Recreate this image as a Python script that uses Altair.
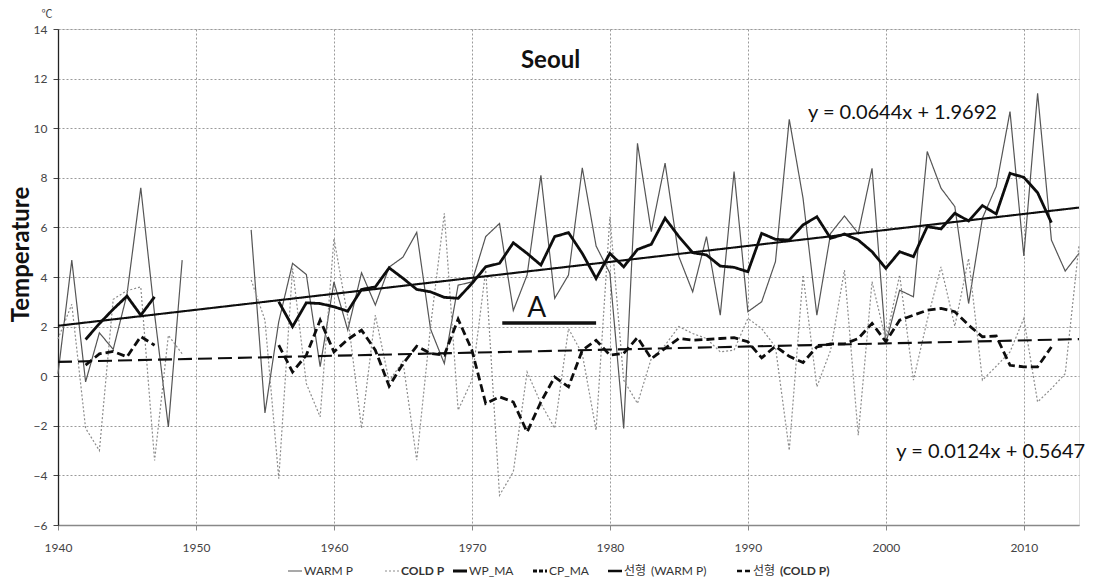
import altair as alt
import pandas as pd

# ---------------- data ----------------
years_a = list(range(1940, 1950))
years_b = list(range(1954, 2015))

warm_a = [0.1, 4.68, -0.23, 1.75, 1.08, 3.3, 7.6, 2.5, -2.05, 4.68]
warm_b = [5.9, -1.48, 2.2, 4.55, 4.1, 0.38, 3.8, 1.86, 4.17, 2.87,
          4.4, 4.8, 5.8, 1.9, 0.51, 3.67, 3.8, 5.63, 6.16, 2.65,
          4.08, 8.1, 3.14, 4.08, 8.4, 5.25, 4.15, -2.11, 9.39, 5.83,
          8.59, 4.82, 3.4, 5.63, 2.46, 8.25, 2.6, 3.0, 4.62, 10.36,
          7.17, 2.46, 5.76, 6.46, 5.76, 8.38, 1.32, 3.47, 3.2, 9.06,
          7.58, 6.84, 2.93, 6.37, 7.65, 10.67, 4.85, 11.41, 5.49, 4.24,
          4.95]

cold_a = [1.5, 2.9, -2.1, -3.0, 3.1, 3.45, 3.6, -3.4, 1.65, 0.9]
cold_b = [3.88, 2.26, -4.13, 4.35, -0.3, -1.64, 5.56, 2.4, -2.1, 2.46,
          -0.2, 0.6, -3.39, 2.0, 6.57, -1.37, -0.16, 4.28, -4.8, -3.86,
          0.17, -1.1, -2.1, 1.92, 0.9, -2.18, 6.43, -0.16, -1.1, 0.71,
          1.25, 2.0, 1.72, 1.52, 0.98, 1.05, 2.33, 1.92, 1.18, -2.99,
          4.08, -0.43, 1.05, 4.28, -2.38, 3.81, 1.45, 4.08, -0.16, 2.26,
          4.41, 2.02, 4.75, -0.16, 0.4, 0.98, 2.33, -1.04, -0.5, 0.1,
          5.29]

ma_years_a = list(range(1942, 1948))
ma_years_b = list(range(1956, 2013))

wp_ma_a = [1.48, 2.12, 2.7, 3.23, 2.46, 3.2]
wp_ma_b = [3.0, 2.0, 2.96, 2.93, 2.8, 2.62, 3.5, 3.6, 4.37, 3.95,
           3.5, 3.4, 3.18, 3.14, 3.74, 4.41, 4.55, 5.38, 4.95, 4.48,
           5.63, 5.79, 4.95, 3.94, 4.95, 4.41, 5.11, 5.32, 6.37, 5.63,
           4.98, 4.89, 4.44, 4.39, 4.21, 5.76, 5.52, 5.49, 6.1, 6.43,
           5.56, 5.73, 5.49, 5.02, 4.35, 5.02, 4.82, 6.03, 5.94, 6.57,
           6.26, 6.88, 6.54, 8.18, 8.02, 7.4, 6.19]

cp_ma_a = [0.45, 0.9, 1.0, 0.78, 1.6, 1.25]
cp_ma_b = [1.25, 0.17, 0.85, 2.26, 0.98, 1.48, 1.86, 1.05, -0.4, 0.5,
           1.21, 0.92, 0.85, 2.3, 1.05, -1.1, -0.83, -1.04, -2.25, -1.04,
           -0.03, -0.43, 1.05, 1.45, 0.85, 0.92, 1.56, 0.71, 1.12, 1.52,
           1.45, 1.48, 1.52, 1.55, 1.39, 0.74, 1.21, 0.8, 0.55, 1.18,
           1.3, 1.3, 1.52, 2.13, 1.39, 2.26, 2.46, 2.66, 2.73, 2.6,
           2.06, 1.59, 1.62, 0.44, 0.38, 0.38, 1.18]

# linear trends shown in the chart (x = 1 for 1940)
trend_names = ["선형 (WARM P)", "선형 (COLD P)"]
trend_slope = [0.0644, 0.0124]
trend_intercept = [1.9692, 0.5647]
trend_years = [1940, 2014]

series_order = ["WARM P", "COLD P", "WP_MA", "CP_MA", "선형 (WARM P)", "선형 (COLD P)"]
series_colors = ["#555555", "#8c8c8c", "#0d0d0d", "#0d0d0d", "#0d0d0d", "#0d0d0d"]
series_dash = [[1, 0], [2, 2], [1, 0], [8, 4], [1, 0], [14, 6]]
series_width = [1.2, 1.2, 2.8, 2.8, 2.1, 2.1]

# ---------------- build tables ----------------
width_of = dict(zip(series_order, series_width))
rows = []
def add(name, yrs, vals, seg):
    for y, v in zip(yrs, vals):
        rows.append({"year": y, "value": v, "series": name, "seg": seg,
                     "sw": width_of[name]})

add("WARM P", years_a, warm_a, 1)
add("WARM P", years_b, warm_b, 2)
add("COLD P", years_a, cold_a, 1)
add("COLD P", years_b, cold_b, 2)
add("WP_MA", ma_years_a, wp_ma_a, 1)
add("WP_MA", ma_years_b, wp_ma_b, 2)
add("CP_MA", ma_years_a, cp_ma_a, 1)
add("CP_MA", ma_years_b, cp_ma_b, 2)
for name, s, b in zip(trend_names, trend_slope, trend_intercept):
    add(name, trend_years, [s * (y - 1939) + b for y in trend_years], 1)

df = pd.DataFrame(rows)

FONT = "Lato, 'Noto Sans CJK KR', sans-serif"

x_enc = alt.X("year:Q",
              scale=alt.Scale(domain=[1940, 2014], nice=False, zero=False),
              axis=alt.Axis(values=list(range(1940, 2011, 10)), format="d", title=None,
                            grid=True, gridDash=[2, 2], gridColor="#9a9a9a",
                            domainColor="#888888", domainWidth=1.5,
                            tickColor="#888888", tickSize=5, labelFlush=False,
                            labelFont=FONT, labelFontSize=12, labelColor="#444444",
                            labelPadding=12))
y_enc = alt.Y("value:Q",
              scale=alt.Scale(domain=[-6, 14], nice=False, zero=False),
              axis=alt.Axis(values=list(range(-6, 15, 2)), title="Temperature",
                            grid=True, gridDash=[2, 2], gridColor="#9a9a9a",
                            domainColor="#222222", domainWidth=1.3,
                            tickColor="#444444", tickSize=5, labelFlush=False,
                            labelFont=FONT, labelFontSize=12, labelColor="#444444",
                            labelPadding=6,
                            titleFont=FONT, titleFontSize=24, titleFontWeight="bold",
                            titleColor="#111111", titleAngle=270,
                            titleX=-30, titleY=225, titleAlign="center",
                            titleBaseline="alphabetic"))

color_enc = alt.Color("series:N", scale=alt.Scale(domain=series_order, range=series_colors),
                      legend=None)
dash_enc = alt.StrokeDash("series:N", scale=alt.Scale(domain=series_order, range=series_dash),
                          legend=None)
width_enc = alt.StrokeWidth("sw:Q", scale=None, legend=None)

base = alt.Chart(df).encode(x=x_enc, y=y_enc, color=color_enc,
                            strokeDash=dash_enc, strokeWidth=width_enc,
                            detail="seg:N", order="year:Q")

raw_lines = base.transform_filter(
    alt.FieldOneOfPredicate(field="series", oneOf=["WARM P", "COLD P"])
).mark_line()
other_lines = base.transform_filter(
    ~alt.FieldOneOfPredicate(field="series", oneOf=["WARM P", "COLD P"])
).mark_line()

# annotations
ann_text = ["Seoul", "y = 0.0644x + 1.9692", "y = 0.0124x + 0.5647", "A"]
ann_year = [1975.7, 2001.2, 2007.6, 1974.7]
ann_value = [12.43, 10.39, -3.31, 2.38]
ann_size = [24, 20, 20, 28]
ann_weight = ["bold", "normal", "normal", "normal"]
ann_df = pd.DataFrame({"text": ann_text, "year": ann_year, "value": ann_value})

texts = alt.layer(*[
    alt.Chart(ann_df.iloc[[i]]).mark_text(
        font=FONT, fontSize=int(ann_size[i]), fontWeight=ann_weight[i],
        color="#111111", align="center", baseline="alphabetic"
    ).encode(x="year:Q", y="value:Q", text="text:N")
    for i in range(len(ann_text))
])

a_line_df = pd.DataFrame({"x1": [1972.2], "x2": [1979.0], "value": [2.15]})
a_line = alt.Chart(a_line_df).mark_rule(color="#111111", strokeWidth=3.5).encode(
    x="x1:Q", x2="x2:Q", y="value:Q")

one = pd.DataFrame({"k": [0]})

unit = alt.Chart(one).mark_text(
    font=FONT, fontSize=11, color="#444444", align="center", baseline="middle"
).encode(x=alt.value(-11), y=alt.value(-14), text=alt.value("℃"))

# ---------------- legend drawn below the plot (pixel layout) ----------------
LEG_Y = 542
leg_sym_x = [230, 327, 395, 475, 550, 679]
leg_sym_len = 14
leg_dash = [[1, 0], [2, 2], [1, 0], [4, 2], [1, 0], [5, 3]]
leg_width = [1.2, 1.2, 2.8, 2.8, 2.3, 2.3]
leg_colors = ["#555555", "#8c8c8c", "#0d0d0d", "#0d0d0d", "#0d0d0d", "#0d0d0d"]
leg_parts = [
    [("WARM P", "normal")],
    [("COLD P", "bold")],
    [("WP_MA", "normal")],
    [("CP_MA", "normal")],
    [("선형", "normal"), ("(WARM P)", "normal")],
    [("선형", "normal"), ("(COLD P)", "bold")],
]

legend_layers = []
for i in range(len(series_order)):
    sx = leg_sym_x[i]
    legend_layers.append(
        alt.Chart(one).mark_rule(color=leg_colors[i], strokeWidth=leg_width[i],
                                 strokeDash=leg_dash[i]).encode(
            x=alt.value(sx), x2=alt.value(sx + leg_sym_len), y=alt.value(LEG_Y))
    )
    tx = sx + leg_sym_len + 2
    for txt, wt in leg_parts[i]:
        legend_layers.append(
            alt.Chart(one).mark_text(font=FONT, fontSize=12, fontWeight=wt,
                                     color="#333333", align="left", baseline="middle").encode(
                x=alt.value(tx), y=alt.value(LEG_Y), text=alt.value(txt))
        )
        tx += 27

chart = alt.layer(raw_lines, other_lines, a_line, texts, unit, *legend_layers).properties(
    width=1021, height=496,
    autosize=alt.AutoSizeParams(type="none"),
    padding={"left": 50, "top": 21, "right": 7, "bottom": 54},
).configure_view(stroke="transparent").configure(background="white")

chart.save("out.html", embed_options={"renderer": "svg", "actions": False})
